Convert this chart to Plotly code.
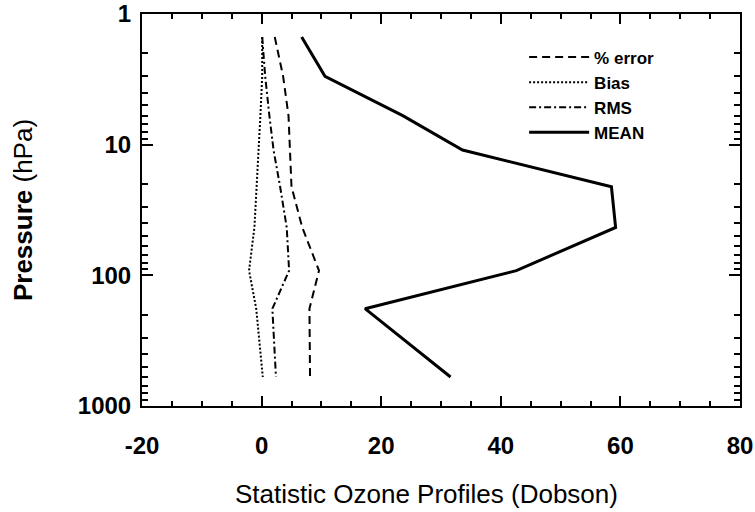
import plotly.graph_objects as go

# Pressure levels (hPa) read from the bends of the profiles
pressure = [1.5, 3.0, 6.0, 11, 21, 43, 92, 180, 600]

# Series values (Dobson)
pct_error = [2.2, 3.6, 4.5, 4.7, 5.0, 6.8, 9.6, 8.0, 8.1]
bias = [0.1, 0.1, -0.2, -0.5, -0.8, -1.2, -2.1, -0.9, 0.2]
rms = [0.1, 0.6, 1.3, 2.0, 3.1, 4.2, 4.6, 1.8, 2.4]
mean = [6.7, 10.6, 23.6, 33.6, 58.5, 59.2, 42.6, 17.3, 31.6]

series_names = ["% error", "Bias", "RMS", "MEAN"]

x_range = [-20, 80]
x_ticks = [-20, 0, 20, 40, 60, 80]
x_tick_labels = ["-20", "0", "20", "40", "60", "80"]
x_minor_step = 5
y_range_decades = [3, 0]   # log10 of 1000 .. 1 (reversed)
y_ticks = [1, 10, 100, 1000]
y_tick_labels = ["1", "10", "100", "1000"]

FONT = "Liberation Sans"

fig = go.Figure()
styles = [
    (pct_error, "8px,5px", 2),
    (bias, "2px,2px", 2),
    (rms, "7px,3px,2px,3px", 2),
    (mean, "solid", 3),
]
for name, (vals, dash, w) in zip(series_names, styles):
    fig.add_trace(go.Scatter(
        x=vals, y=pressure, mode="lines", name=name,
        line=dict(color="black", width=w, dash=dash),
    ))

common = dict(tickwidth=2, tickcolor="black", showgrid=False, zeroline=False,
              automargin=False, layer="above traces")

fig.update_layout(
    width=755, height=512,
    margin=dict(l=142, r=15, t=14, b=106, autoexpand=False),
    paper_bgcolor="white", plot_bgcolor="white",
    showlegend=True,
    legend=dict(
        x=0.639, y=0.935, xanchor="left", yanchor="top",
        bgcolor="rgba(0,0,0,0)",
        font=dict(family=FONT, size=17, color="black", weight="bold"),
        tracegroupgap=0, itemwidth=60,
    ),
    font=dict(family=FONT, color="black"),
    annotations=[dict(
        text="Statistic Ozone Profiles (Dobson)", xref="paper", yref="paper",
        x=0.475, y=-0.224, xanchor="center", yanchor="middle", showarrow=False,
        font=dict(family=FONT, size=26, color="black"),
    )],
    xaxis=dict(
        range=x_range, tickmode="array", tickvals=x_ticks, ticktext=x_tick_labels,
        ticks="inside", ticklen=10, showline=True, linewidth=2,
        linecolor="black", mirror="ticks", ticklabelstandoff=17,
        ticklabeloverflow="allow",
        tickfont=dict(family=FONT, size=24, color="black", weight="bold"),
        **common,
    ),
    yaxis=dict(
        type="log", range=y_range_decades, tickmode="array", tickvals=y_ticks,
        ticktext=y_tick_labels,
        ticks="inside", ticklen=11, showline=True, linewidth=2, linecolor="black",
        mirror="ticks", ticklabelstandoff=4, ticklabeloverflow="allow",
        tickfont=dict(family=FONT, size=24, color="black", weight="bold"),
        title=dict(text="<b>Pressure</b> (hPa)",
                   font=dict(family=FONT, size=26, color="black"), standoff=38),
        **common,
    ),
    # overlay axes that draw the short minor ticks on all four sides
    xaxis2=dict(
        overlaying="x", anchor="y", side="bottom", range=x_range,
        tickmode="linear", tick0=x_range[0], dtick=x_minor_step,
        ticks="inside", ticklen=5, showticklabels=False, showline=False,
        mirror="ticks", **common,
    ),
    yaxis2=dict(
        overlaying="y", anchor="x", side="left", type="log", range=y_range_decades,
        tickmode="linear", tick0=0, dtick="D1",
        ticks="inside", ticklen=6, showticklabels=False, showline=False,
        mirror="ticks", **common,
    ),
)
fig.add_trace(go.Scatter(x=[x_range[0]], y=[1], xaxis="x2", yaxis="y2",
                         mode="markers", marker=dict(opacity=0), showlegend=False,
                         hoverinfo="skip"))

fig.write_html("out.html", config={"displayModeBar": False},
               post_script="document.body.style.margin='0';")
